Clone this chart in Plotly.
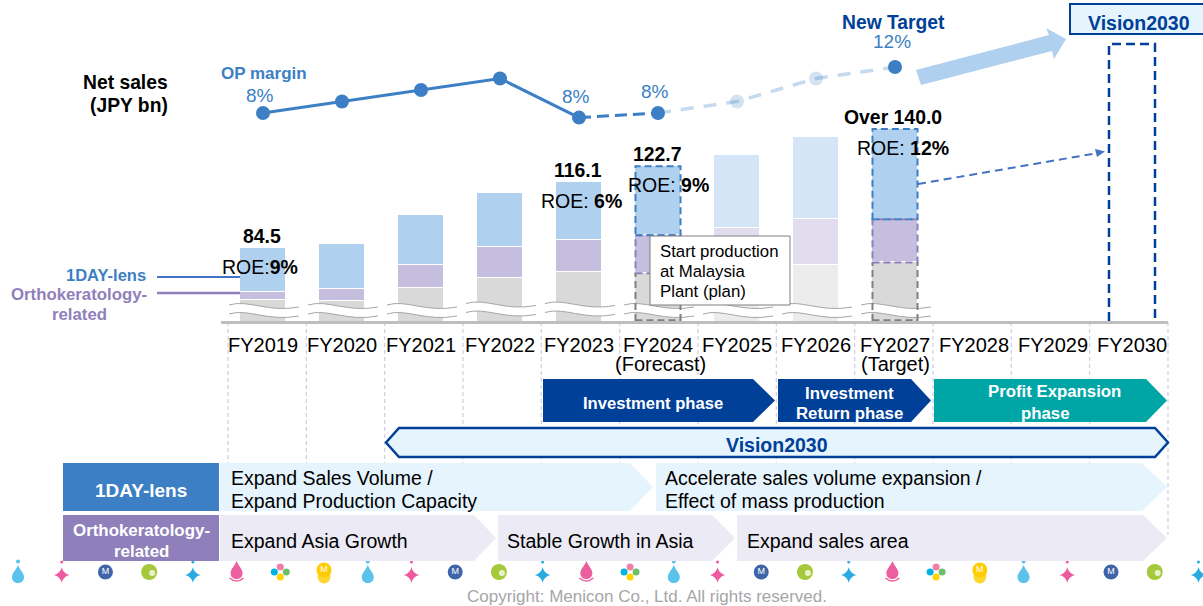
import plotly.graph_objects as go

W, H = 1203, 606
FONT = "Liberation Sans"

# ---------- data ----------
years = ["FY2019", "FY2020", "FY2021", "FY2022", "FY2023", "FY2024",
         "FY2025", "FY2026", "FY2027", "FY2028", "FY2029", "FY2030"]
year_notes = {5: "(Forecast)", 8: "(Target)"}
other_sales = [60.2, 59.5, 65.7, 70.5, 73.3, 72.7, 74.3, 76.7, 77.9]
ortho_sales = [3.8, 5.7, 11.0, 14.8, 15.2, 18.1, 20.0, 21.9, 20.5]
oneday_sales = [20.9, 21.4, 23.8, 25.7, 27.6, 32.9, 34.8, 39.0, 43.0]
total_labels = {0: "84.5", 4: "116.1", 5: "122.7", 8: "Over 140.0"}
roe_labels = {0: "ROE:<b>9%</b>", 4: "ROE: <b>6%</b>", 5: "ROE: <b>9%</b>", 8: "ROE: <b>12%</b>"}
op_margin = [8.0, 9.0, 10.0, 11.0, 7.6, 8.0, 9.0, 11.0, 12.0]
op_labels = {0: "8%", 4: "8%", 5: "8%", 8: "12%"}

C_BLUE = "#3C7FC4"
C_NAVY = "#004098"
C_TEAL = "#00A6A6"
C_PURPLE = "#8F7FBA"
C_PALE = "#E6F4FD"
C_LILAC = "#ECEAF5"
oneday_col = ["#AFD0EE"] * 6 + ["#D3E5F6", "#D3E5F6", "#AFD0EE"]
ortho_col = ["#C6BEDE"] * 6 + ["#E2DDEE", "#E2DDEE", "#C6BEDE"]
other_col = ["#D9D9D9"] * 6 + ["#ECECEC", "#ECECEC", "#D9D9D9"]

icon_seq = ["drop", "pstar", "mnavy", "green", "bstar", "pdrop", "flower", "gold",
            "drop", "pstar", "mnavy", "green", "bstar", "pdrop", "flower",
            "drop", "pstar", "mnavy", "green", "bstar", "pdrop", "flower", "gold",
            "drop", "pstar", "mnavy", "green", "bstar"]

# ---------- scale helpers ----------
CX0, STEP = 263.0, 79.0
AX_L, AX_R, AX_Y = 221.0, 1168.0, 321.0
PX_PER_BN = 2.1
BAR_W = 0.57


def cx(i):
    return CX0 + STEP * i


fig = go.Figure()
shapes = []
ann = []


def text(x, y, s, size=16, color="#000000", bold=False, anchor="center", align=None):
    ann.append(dict(x=x, y=y, xref="x", yref="y", text=f"<b>{s}</b>" if bold else s,
                    showarrow=False, xanchor=anchor, yanchor="middle", align=align or anchor,
                    font=dict(family=FONT, size=size, color=color), borderpad=0, borderwidth=0))


def path(points, fill=None, line=None, width=0, dash=None, close=True):
    d = "M " + " L ".join(f"{x},{y}" for x, y in points) + (" Z" if close else "")
    add_path(d, fill, line, width, dash)


def add_path(d, fill=None, line=None, width=0, dash=None):
    s = dict(type="path", path=d, xref="x", yref="y", layer="above",
             fillcolor=fill or "rgba(0,0,0,0)",
             line=dict(color=line or "rgba(0,0,0,0)", width=width))
    if dash:
        s["line"]["dash"] = dash
    shapes.append(s)


def pentagon(x0, x1, sh, y0, y1, fill):
    path([(x0, y0), (sh, y0), (x1, (y0 + y1) / 2), (sh, y1), (x0, y1)], fill=fill)


# ---------- bars ----------
xs = years[:9]
WHITE = dict(color="#FFFFFF", width=1.5)
for name, vals, cols in [("Other", other_sales, other_col),
                         ("Orthokeratology-related", ortho_sales, ortho_col),
                         ("1DAY-lens", oneday_sales, oneday_col)]:
    fig.add_bar(x=xs, y=vals, name=name, width=BAR_W, xaxis="x2", yaxis="y2",
                marker=dict(color=cols, line=WHITE), hoverinfo="skip")

# OP margin line
fig.add_scatter(x=years[5:9], y=op_margin[5:9], xaxis="x2", yaxis="y3", mode="lines",
                line=dict(color="#C5DAEE", width=3.5, dash="13px,10px"), hoverinfo="skip")
fig.add_scatter(x=years[4:6], y=op_margin[4:6], xaxis="x2", yaxis="y3", mode="lines",
                line=dict(color=C_BLUE, width=3, dash="12px,6px"), hoverinfo="skip")
fig.add_scatter(x=years[:5], y=op_margin[:5], xaxis="x2", yaxis="y3", mode="lines+markers",
                line=dict(color=C_BLUE, width=3), marker=dict(color=C_BLUE, size=14), hoverinfo="skip")
fig.add_scatter(x=[years[5], years[8]], y=[op_margin[5], op_margin[8]], xaxis="x2", yaxis="y3",
                mode="markers", marker=dict(color=C_BLUE, size=14), hoverinfo="skip")
fig.add_scatter(x=years[6:8], y=op_margin[6:8], xaxis="x2", yaxis="y3", mode="markers",
                marker=dict(color="rgba(60,127,196,0.22)", size=14), hoverinfo="skip")

# ---------- guides ----------
for i in range(13):
    x = 228 + 78.33 * i
    shapes.append(dict(type="line", x0=x, x1=x, y0=322, y1=535 if i == 12 else 463, xref="x", yref="y",
                       layer="below", line=dict(color="#CFCCE6", width=1.2, dash="4px,3px")))

# ---------- axis breaks ----------
for i in range(9):
    c = cx(i)
    dy = -1.5 if i in (3, 4) else 0
    a = f"M {c-34},{305+dy} C {c-15},{299+dy} {c+5},{313+dy} {c+36},{307+dy}"
    b = f"M {c-34},{314+dy} C {c-15},{308+dy} {c+5},{322+dy} {c+36},{316+dy}"
    band = (a + f" L {c+36},{316+dy} C {c+5},{322+dy} {c-15},{308+dy} {c-34},{314+dy} Z")
    add_path(band, fill="#FFFFFF")
    add_path(a, line="#A6A6A6", width=1)
    add_path(b, line="#A6A6A6", width=1)

# ---------- dashed outlines on highlighted bars ----------
for i in (5, 8):
    h = BAR_W / 2
    b0 = other_sales[i]
    b1 = b0 + ortho_sales[i]
    b2 = b1 + oneday_sales[i]
    for lo, hi, col in [(b0, b1, C_PURPLE), (b1, b2, C_BLUE)]:
        shapes.append(dict(type="rect", xref="x2", yref="y2", x0=i - h, x1=i + h, y0=lo, y1=hi,
                           layer="above", line=dict(color=col, width=2, dash="7px,4px")))
    for sx in (i - h, i + h):
        shapes.append(dict(type="line", xref="x2", yref="y2", x0=sx, x1=sx, y0=50, y1=b0, layer="above",
                           line=dict(color="#7F7F7F", width=2, dash="7px,4px")))
    shapes.append(dict(type="line", xref="x2", yref="y2", x0=i - h, x1=i + h, y0=50.3, y1=50.3, layer="above",
                       line=dict(color="#7F7F7F", width=2, dash="7px,4px")))

# ---------- callout ----------
shapes.append(dict(type="rect", xref="x", yref="y", x0=650, x1=790, y0=236, y1=305, layer="above",
                   fillcolor="#FFFFFF", line=dict(color="#7F7F7F", width=1)))
for y, s in [(251, "Start production"), (271, "at Malaysia"), (291, "Plant (plan)")]:
    text(660, y, s, size=16.8, anchor="left")

# ---------- legend leaders ----------
shapes.append(dict(type="line", xref="x", yref="y", x0=157, x1=240, y0=277, y1=277, layer="above",
                   line=dict(color="#4472C4", width=2)))
shapes.append(dict(type="line", xref="x", yref="y", x0=157, x1=240, y0=293, y1=293, layer="above",
                   line=dict(color=C_PURPLE, width=2.5)))
text(146, 275, "1DAY-lens", 16.5, C_BLUE, True, "right")
text(79, 294, "Orthokeratology-", 16.8, C_PURPLE, True)
text(79, 314, "related", 16.8, C_PURPLE, True)

# ---------- phases ----------
pentagon(543, 775, 753, 379, 422, C_NAVY)
pentagon(778, 931, 911, 379, 422, C_NAVY)
pentagon(934, 1167, 1146, 379, 422, C_TEAL)
text(653, 403, "Investment phase", 16.6, "#FFFFFF", True)
text(849, 393, "Investment", 16.8, "#FFFFFF", True)
text(849, 413, "Return phase", 16.8, "#FFFFFF", True)
text(1054, 391, "Profit Expansion", 16.8, "#FFFFFF", True)
text(1045, 413, "phase", 16.8, "#FFFFFF", True)

path([(386, 442.5), (399, 428), (1155, 428), (1168, 442.5), (1155, 457), (399, 457)],
     fill=C_PALE, line=C_NAVY, width=2.5)
text(777, 445, "Vision2030", 19.5, C_NAVY, True)

# ---------- strategy rows ----------
path([(63, 463), (219, 463), (219, 511), (63, 511)], fill=C_BLUE)
path([(63, 515), (219, 515), (219, 561), (63, 561)], fill=C_PURPLE)
text(141, 490, "1DAY-lens", 19, "#FFFFFF", True)
text(141, 530, "Orthokeratology-", 16.9, "#FFFFFF", True)
text(141, 551, "related", 16.9, "#FFFFFF", True)
pentagon(220, 653, 630, 463, 511, C_PALE)
pentagon(656, 1167, 1142, 463, 511, C_PALE)
pentagon(220, 496, 474, 515, 561, C_LILAC)
pentagon(498, 735, 712, 515, 561, C_LILAC)
pentagon(737, 1167, 1143, 515, 561, C_LILAC)
text(231, 478, "Expand Sales Volume /", 19.5, anchor="left")
text(231, 501, "Expand Production Capacity", 19.5, anchor="left")
text(665, 478, "Accelerate sales volume expansion /", 19.5, anchor="left")
text(665, 501, "Effect of mass production", 19.5, anchor="left")
text(231, 541, "Expand Asia Growth", 19.5, anchor="left")
text(507, 541, "Stable Growth in Asia", 19.5, anchor="left")
text(747, 541, "Expand sales area", 19.5, anchor="left")

# ---------- Vision2030 box, arrows, placeholder bar ----------
path([(1070, 4), (1205, 4), (1205, 34), (1070, 34)], fill=C_PALE, line=C_NAVY, width=2)
text(1139, 23, "Vision2030", 19.5, C_NAVY, True)
path([(1109, 321), (1109, 44), (1155, 44), (1155, 318)], line=C_NAVY, width=2.5, dash="9px,5px", close=False)
path([(916, 70), (921, 85), (1052, 51), (1054, 59), (1066, 39), (1046, 28), (1049, 35)], fill="#AFD0EE")
shapes.append(dict(type="line", xref="x", yref="y", x0=918, y0=184, x1=1098, y1=153, layer="above",
                   line=dict(color="#4472C4", width=2, dash="8px,5px")))
path([(1095, 149), (1105, 151.5), (1097, 157)], fill="#4472C4")

# ---------- labels ----------
text(168, 82, "Net sales", 19.3, bold=True, anchor="right")
text(168, 105, "(JPY bn)", 19.3, bold=True, anchor="right")
text(264, 73, "OP margin", 17, C_BLUE, True)
text(893, 22, "New Target", 19.3, C_NAVY, True)
text(647, 596, "Copyright: Menicon Co., Ltd. All rights reserved.", 17, "#A6A6A6")

for i, s in year_notes.items():
    ann.append(dict(x=years[i], y=50, xref="x2", yref="y2", text=s, showarrow=False,
                    yanchor="middle", yshift=-43, xshift={5: 2, 8: 0}[i],
                    font=dict(family=FONT, size=20, color="#000000")))

for i, s in op_labels.items():
    ann.append(dict(x=years[i], y=op_margin[i], xref="x2", yref="y3", text=s, showarrow=False,
                    yshift={0: 18, 4: 21, 5: 22, 8: 26}[i], xshift=-3, yanchor="middle",
                    font=dict(family=FONT, size=19, color=C_BLUE)))
for i, s in total_labels.items():
    top = other_sales[i] + ortho_sales[i] + oneday_sales[i]
    ann.append(dict(x=years[i], y=top, xref="x2", yref="y2", text=f"<b>{s}</b>", showarrow=False,
                    yanchor="bottom", yshift=-1, xshift=-1 if i != 8 else -2,
                    font=dict(family=FONT, size=19.4, color="#000000")))
    ann.append(dict(x=years[i], y=top, xref="x2", yref="y2", text=roe_labels[i], showarrow=False,
                    yanchor="middle", yshift=-19, xshift={0: -3, 4: 2, 5: 10, 8: 8}[i],
                    font=dict(family=FONT, size=19.5, color="#000000")))

# ---------- icon strip ----------
groups = {}
for n, kind in enumerate(icon_seq):
    groups.setdefault(kind, []).append(18 + 43.72 * n)


def marks(xv, yv, color, size, symbol="circle", txt=None):
    fig.add_scatter(x=xv, y=yv, xaxis="x", yaxis="y", mode="markers+text" if txt else "markers",
                    text=[txt] * len(xv) if txt else None, textposition="middle center",
                    textfont=dict(family=FONT, size=9, color="#FFFFFF"), cliponaxis=False,
                    marker=dict(color=color, size=size, symbol=symbol, line=dict(width=0)),
                    hoverinfo="skip")


def drop(x, color, y=575):
    add_path(f"M {x},{y-10} C {x+2},{y-5} {x+6},{y-2} {x+6},{y+2} C {x+6},{y+10} {x-6},{y+10} {x-6},{y+2} "
             f"C {x-6},{y-2} {x-2},{y-5} {x},{y-10} Z", fill=color)


for x in groups["drop"]:
    drop(x, "#5BC2EC")
marks(groups["drop"], [561.5] * len(groups["drop"]), "#5BC2EC", 4)
for kind, col in (("pstar", "#EE5A9E"), ("bstar", "#29ABE2")):
    marks(groups[kind], [575] * len(groups[kind]), col, 11, "star-diamond")
    marks(groups[kind], [562] * len(groups[kind]), col, 3)
marks(groups["mnavy"], [572] * len(groups["mnavy"]), "#3F64A8", 15, txt="M")
marks(groups["green"], [572] * len(groups["green"]), "#A5C93A", 16)
marks([x + 3 for x in groups["green"]], [573] * len(groups["green"]), "rgba(255,255,255,0.75)", 6)
for x in groups["pdrop"]:
    drop(x, "#EC5F9F", 571)
    add_path(f"M {x-7},{578} Q {x},{584} {x+7},{578}", line="#EC5F9F", width=1.5)
fl = groups["flower"]
marks(fl, [567] * len(fl), "#EE7FA6", 7)
marks([x - 6 for x in fl], [572] * len(fl), "#00B2E3", 7)
marks([x + 6 for x in fl], [572] * len(fl), "#6DBE6A", 7)
marks(fl, [577] * len(fl), "#FFD400", 7)
marks(groups["gold"], [577] * len(groups["gold"]), "#FDD835", 13)
marks(groups["gold"], [570] * len(groups["gold"]), "#FFCC00", 15, txt="M")

# ---------- layout ----------
fig.update_layout(
    width=W, height=H, autosize=False, margin=dict(l=0, r=0, t=0, b=0),
    paper_bgcolor="#FFFFFF", plot_bgcolor="rgba(0,0,0,0)", showlegend=False, barmode="stack",
    bargap=0, font=dict(family=FONT),
    shapes=shapes, annotations=ann,
    xaxis=dict(range=[0, W], domain=[0, 1], visible=False, fixedrange=True),
    yaxis=dict(range=[H, 0], domain=[0, 1], visible=False, fixedrange=True),
    xaxis2=dict(type="category", categoryorder="array", categoryarray=years,
                domain=[AX_L / W, AX_R / W],
                range=[(AX_L - CX0) / STEP, (AX_R - CX0) / STEP],
                anchor="y2", tickmode="array", tickvals=years, ticktext=years,
                showline=True, linecolor="#BFBFBF", linewidth=2.5, showgrid=False,
                ticks="outside", ticklen=4, tickcolor="rgba(0,0,0,0)",
                tickfont=dict(family=FONT, size=20, color="#000000"), tickangle=0, fixedrange=True),
    yaxis2=dict(domain=[(H - AX_Y) / H, 1], range=[50, 50 + AX_Y / PX_PER_BN], anchor="x2",
                visible=False, fixedrange=True),
    yaxis3=dict(domain=[0, 1], range=[8 - (H - 113) / 11.5, 8 + 113 / 11.5], anchor="x2",
                visible=False, fixedrange=True),
)

fig.write_html("out.html", config={"displayModeBar": False},
               post_script="document.body.style.margin='0';document.body.style.overflow='hidden';")
